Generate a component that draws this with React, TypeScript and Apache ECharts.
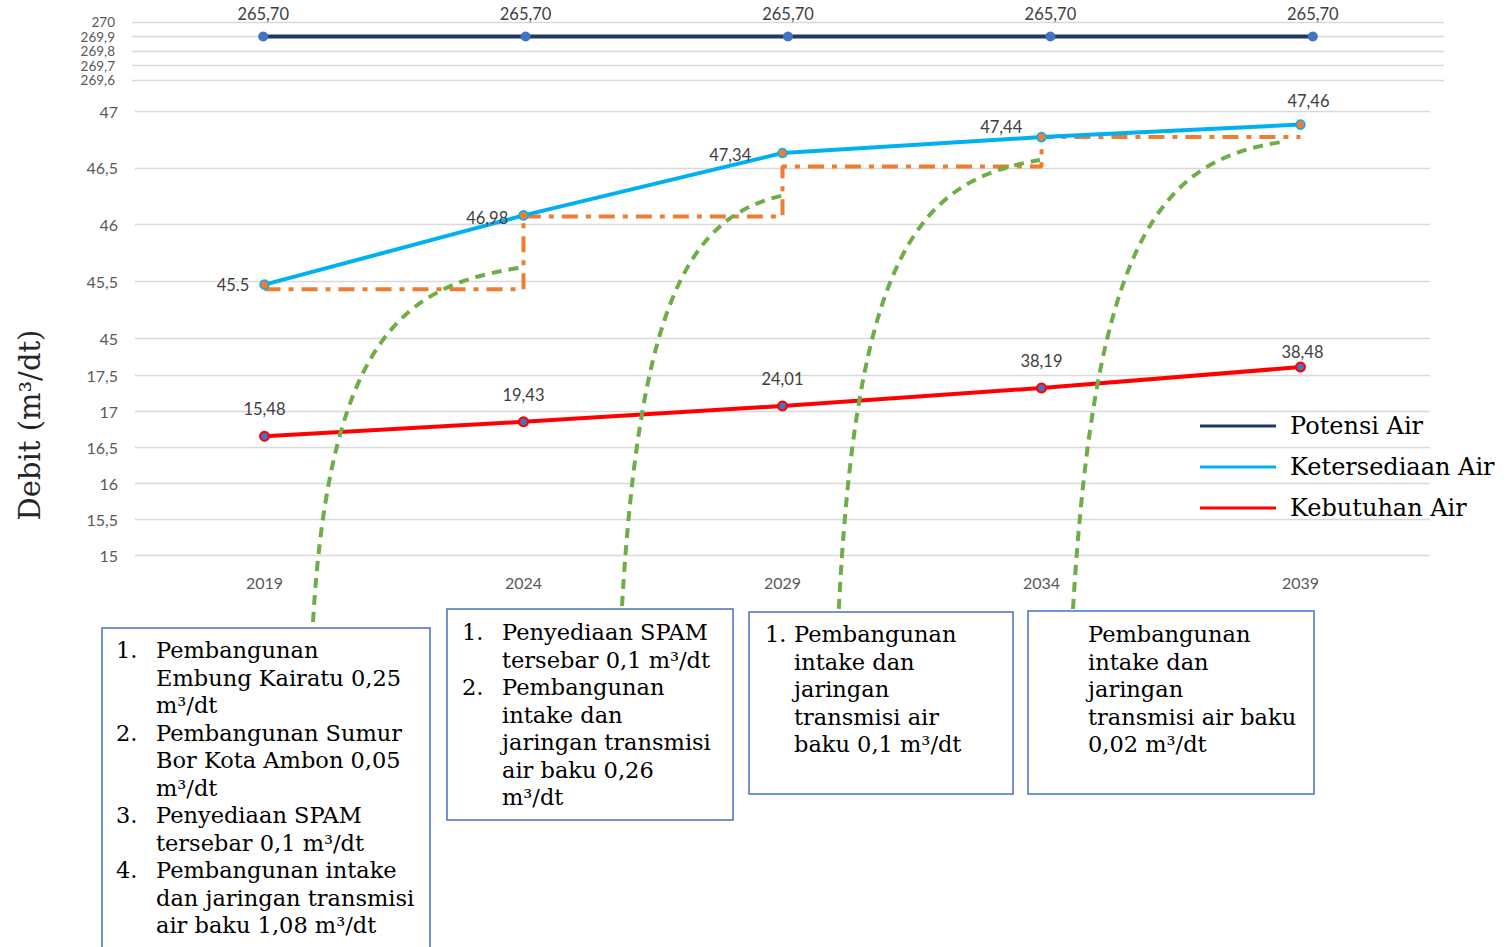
import React, { useEffect, useRef } from "react";
import * as echarts from "echarts";

const years = ["2019", "2024", "2029", "2034", "2039"];

const potensiValues = [269.9, 269.9, 269.9, 269.9, 269.9];
const potensiLabels = ["265,70", "265,70", "265,70", "265,70", "265,70"];

const ketersediaanValues = [45.47, 46.08, 46.63, 46.77, 46.88];
const ketersediaanLabels = ["45.5", "46,98", "47,34", "47,44", "47,46"];

const kebutuhanValues = [16.65, 16.85, 17.07, 17.32, 17.61];
const kebutuhanLabels = ["15,48", "19,43", "24,01", "38,19", "38,48"];

const tambahanStep = [45.43, 46.07, 46.51, 46.77, 46.77];

const seriesNames = ["Potensi Air", "Ketersediaan Air", "Kebutuhan Air"];
const seriesColors = ["#1F3864", "#00B0F0", "#FF0000"];

const box1Numbers = "1.\n\n\n2.\n\n\n3.\n\n4.";
const box1Text =
  "Pembangunan\nEmbung Kairatu 0,25\nm³/dt\nPembangunan Sumur\nBor Kota Ambon 0,05\nm³/dt\nPenyediaan SPAM\ntersebar 0,1 m³/dt\nPembangunan intake\ndan jaringan transmisi\nair baku 1,08 m³/dt";
const box2Numbers = "1.\n\n2.";
const box2Text =
  "Penyediaan SPAM\ntersebar 0,1 m³/dt\nPembangunan\nintake dan\njaringan transmisi\nair baku 0,26\nm³/dt";
const box3Numbers = "1.";
const box3Text = "Pembangunan\nintake dan\njaringan\ntransmisi air\nbaku 0,1 m³/dt";
const box4Text = "Pembangunan\nintake dan\njaringan\ntransmisi air baku\n0,02 m³/dt";

const yTitle = "Debit (m³/dt)";

const fmt = (v: number) => String(Math.round(v * 10) / 10).replace(".", ",");

const SERIF = '"DejaVu Serif", "Liberation Serif", serif';
const SANS = 'Lato, "Noto Sans", sans-serif';
const LH = 27.5;

export default function App() {
  const ref = useRef<HTMLDivElement>(null);
  useEffect(() => {
    document.body.style.margin = "0";
    const chart = echarts.init(ref.current!, null, { renderer: "svg" });

    const axisLabel = { color: "#595959", fontSize: 16, fontFamily: SANS, margin: 17 };
    const splitLine = { show: true, lineStyle: { color: "#D9D9D9", width: 1.3 } };
    const dataLabel = { color: "#404040", fontSize: 16.5, fontFamily: SANS };

    const ketPos: any[] = [
      { position: "left", distance: 10 },
      { position: "left", distance: 10, offset: [0, 3] },
      { position: "left", distance: 26, offset: [0, 2] },
      { position: "left", distance: 14, offset: [0, -10] },
      { position: "top", distance: 10, offset: [8, 0] },
    ];
    const kebPos: any[] = [{}, {}, {}, {}, { offset: [2, 12] }];

    const textBlock = (x: number, y: number, text: string) => ({
      type: "text",
      x,
      y,
      z: 20,
      style: {
        text,
        font: `22.5px ${SERIF}`,
        fill: "#000",
        lineHeight: LH,
        verticalAlign: "top",
        align: "left",
      },
    });
    const box = (x: number, y: number, w: number, h: number) => ({
      type: "rect",
      z: 19,
      shape: { x, y, width: w, height: h },
      style: { fill: "#fff", stroke: "#4472C4", lineWidth: 1.5 },
    });
    const curve = (x1: number, y1: number, cx1: number, cy1: number, cx2: number, cy2: number, x2: number, y2: number) => ({
      type: "bezierCurve",
      z: 18,
      shape: { x1, y1, cpx1: cx1, cpy1: cy1, cpx2: cx2, cpy2: cy2, x2, y2 },
      style: { stroke: "#70AD47", lineWidth: 4, lineDash: [10, 7], fill: null },
    });

    chart.setOption({
      animation: false,
      grid: [
        { left: 132, right: 66, top: 22, height: 58 },
        { left: 135, right: 80, top: 111, height: 227 },
        { left: 135, right: 80, top: 375, height: 180 },
      ],
      xAxis: [0, 1, 2].map((i) => ({
        type: "category",
        gridIndex: i,
        data: years,
        axisLine: { show: false },
        axisTick: { show: false },
        axisLabel: i === 2 ? { ...axisLabel, margin: 19 } : { show: false },
      })),
      yAxis: [
        {
          type: "value",
          gridIndex: 0,
          min: 269.6,
          max: 270,
          interval: 0.1,
          axisLabel: {
            ...axisLabel,
            fontSize: 13.5,
            lineHeight: 12,
            showMinLabel: true,
            showMaxLabel: true,
            hideOverlap: false,
            formatter: fmt,
          },
          splitLine,
        },
        {
          type: "value",
          gridIndex: 1,
          min: 45,
          max: 47,
          interval: 0.5,
          axisLabel: { ...axisLabel, formatter: fmt },
          splitLine,
        },
        {
          type: "value",
          gridIndex: 2,
          min: 15,
          max: 17.5,
          interval: 0.5,
          axisLabel: { ...axisLabel, formatter: fmt },
          splitLine,
        },
      ],
      legend: {
        orient: "vertical",
        left: 1195,
        top: 409,
        icon: "rect",
        itemWidth: 76,
        itemHeight: 3,
        itemGap: 17,
        data: seriesNames.map((n, i) => ({
          name: n,
          itemStyle: { color: seriesColors[i], borderWidth: 0 },
        })),
        textStyle: { fontFamily: SERIF, fontSize: 24, color: "#000", padding: [0, 0, 0, 9] },
      },
      series: [
        {
          name: "Tambahan",
          type: "line",
          xAxisIndex: 1,
          yAxisIndex: 1,
          data: tambahanStep,
          step: "end",
          symbol: "none",
          z: 1,
          lineStyle: { color: "#ED7D31", width: 4, type: [16, 8, 5, 8] },
        },
        {
          name: seriesNames[0],
          type: "line",
          xAxisIndex: 0,
          yAxisIndex: 0,
          data: potensiValues,
          color: seriesColors[0],
          symbol: "circle",
          symbolSize: 10,
          itemStyle: { color: "#4472C4" },
          lineStyle: { color: seriesColors[0], width: 4 },
          label: {
            show: true,
            position: "top",
            distance: 9,
            ...dataLabel,
            formatter: (p: any) => potensiLabels[p.dataIndex],
          },
        },
        {
          name: seriesNames[1],
          type: "line",
          xAxisIndex: 1,
          yAxisIndex: 1,
          z: 3,
          data: ketersediaanValues.map((v, i) => ({ value: v, label: ketPos[i] })),
          color: seriesColors[1],
          symbol: "circle",
          symbolSize: 9,
          itemStyle: { color: "#ED7D31", borderColor: "#00B0F0", borderWidth: 1.5 },
          lineStyle: { color: seriesColors[1], width: 4 },
          label: {
            show: true,
            ...dataLabel,
            formatter: (p: any) => ketersediaanLabels[p.dataIndex],
          },
        },
        {
          name: seriesNames[2],
          type: "line",
          xAxisIndex: 2,
          yAxisIndex: 2,
          clip: false,
          data: kebutuhanValues.map((v, i) => ({ value: v, label: kebPos[i] })),
          color: seriesColors[2],
          symbol: "circle",
          symbolSize: 9,
          itemStyle: { color: "#4472C4", borderColor: "#FF0000", borderWidth: 2 },
          lineStyle: { color: seriesColors[2], width: 4 },
          label: {
            show: true,
            position: "top",
            distance: 13,
            ...dataLabel,
            formatter: (p: any) => kebutuhanLabels[p.dataIndex],
          },
        },
      ],
      graphic: [
        {
          type: "text",
          x: 30,
          y: 425,
          rotation: Math.PI / 2,
          style: {
            text: yTitle,
            font: `29px ${SERIF}`,
            fill: "#262626",
            align: "center",
            verticalAlign: "middle",
          },
        },
        curve(313, 622, 330, 330, 410, 285, 519, 268),
        curve(622, 606, 640, 300, 690, 215, 785, 195),
        curve(838, 626, 855, 250, 920, 180, 1040, 160),
        curve(1073, 609, 1095, 240, 1160, 160, 1282, 142),
        box(102, 628, 328, 330),
        box(447, 609, 286, 211),
        box(749, 612, 264, 182),
        box(1028, 611, 286, 183),
        textBlock(116, 650 - LH / 2, box1Numbers),
        textBlock(156, 650 - LH / 2, box1Text),
        textBlock(462, 632 - LH / 2, box2Numbers),
        textBlock(502, 632 - LH / 2, box2Text),
        textBlock(765, 634 - LH / 2, box3Numbers),
        textBlock(794, 634 - LH / 2, box3Text),
        textBlock(1088, 634 - LH / 2, box4Text),
      ],
    });
    return () => chart.dispose();
  }, []);
  return <div ref={ref} style={{ width: 1510, height: 947 }} />;
}
